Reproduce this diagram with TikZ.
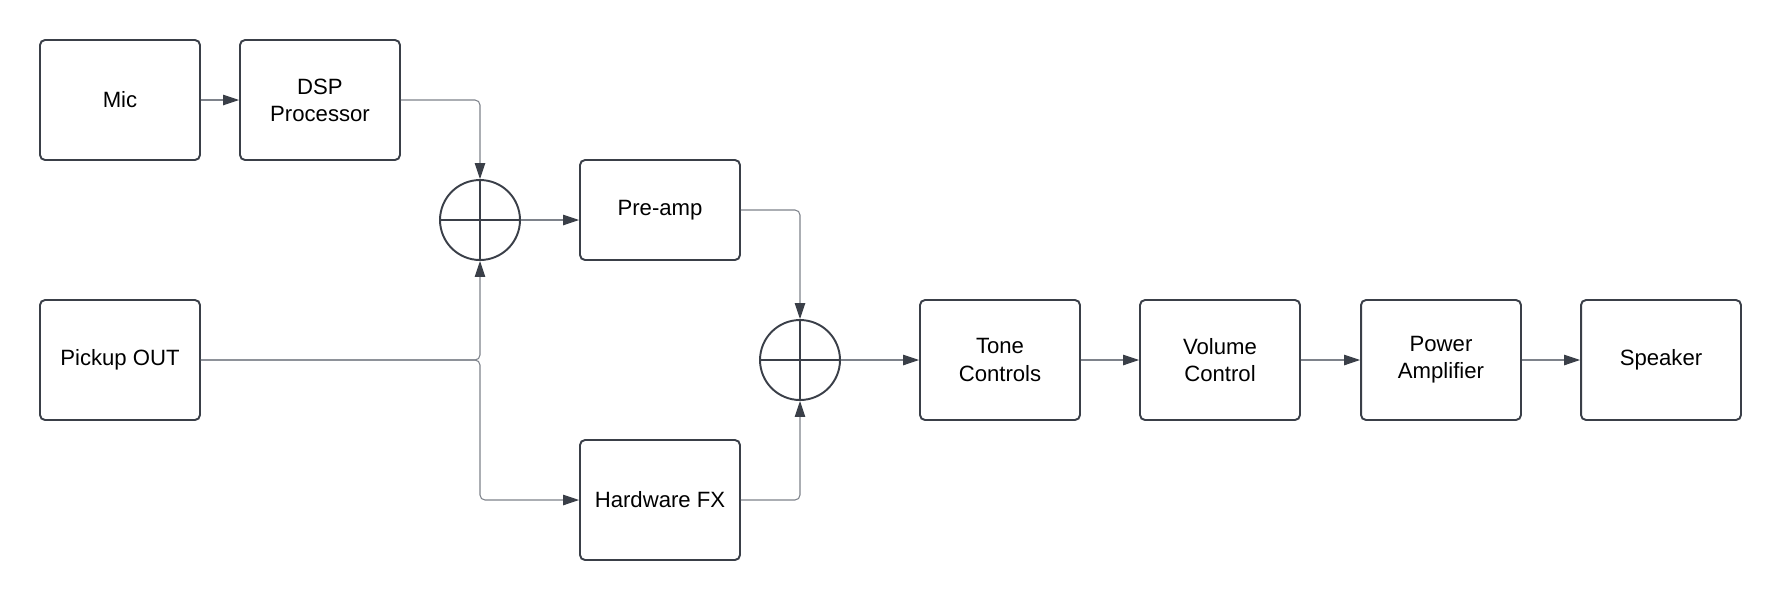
\documentclass[tikz,border=0pt]{standalone}
\usepackage{fontspec}
\setmainfont{Liberation Sans}
\usepackage{xcolor}
\usetikzlibrary{arrows.meta, positioning}
\definecolor{boxc}{HTML}{3A3F48}
\definecolor{linec}{HTML}{7E838B}

\tikzset{
  block/.style={draw=boxc, line width=1.1pt, rounded corners=0.1cm, minimum width=3.2cm,
                minimum height=2.4cm, align=center, font=\fontsize{12.6}{15.5}\selectfont},
  sumnode/.style={circle, draw=boxc, line width=1.1pt, minimum size=1.6cm, inner sep=0pt,
                  path picture={\draw[boxc, line width=1.1pt]
                     (path picture bounding box.north) -- (path picture bounding box.south)
                     (path picture bounding box.west) -- (path picture bounding box.east);}},
  wire/.style={draw=linec, line width=0.6pt, rounded corners=0.1cm},
  arr/.style={wire, -{Triangle[length=0.32cm, width=0.21cm, color=boxc]}}
}

\begin{document}
\begin{tikzpicture}[x=0.02cm, y=-0.02cm]
\useasboundingbox (0,0) rectangle (1781,600);

% input side
\node[block] (mic) at (120,100) {Mic};
\node[block] (dsp) at (320,100) {DSP\\Processor};
\node[sumnode] (sum1) at (480,220) {};
\node[block, minimum height=2cm] (preamp) at (660,210) {Pre-amp};
\node[block] (pickup) at (120,360) {Pickup OUT};
\node[block] (hwfx) at (660,500) {Hardware FX};
\node[sumnode] (sum2) at (800,360) {};

% output chain
\node[block] (tone) at (1000,360) {Tone\\Controls};
\node[block] (volume) at (1220,360) {Volume\\Control};
\node[block] (power) at (1441,360) {Power\\Amplifier};
\node[block] (speaker) at (1661,360) {Speaker};

\coordinate (split) at (480,360);

\draw[arr] (mic) -- (dsp);
\draw[arr] (dsp.east) -| (sum1.north);
\draw[arr] (pickup.east) -| (sum1.south);
\draw[arr] (pickup.east) -- (split) |- (hwfx.west);
\draw[arr] (sum1.east) -- (sum1.east -| preamp.west);
\draw[arr] (preamp.east) -| (sum2.north);
\draw[arr] (hwfx.east) -| (sum2.south);
\draw[arr] (sum2.east) -- (tone.west);
\draw[arr] (tone.east) -- (volume.west);
\draw[arr] (volume.east) -- (power.west);
\draw[arr] (power.east) -- (speaker.west);
\end{tikzpicture}
\end{document}
